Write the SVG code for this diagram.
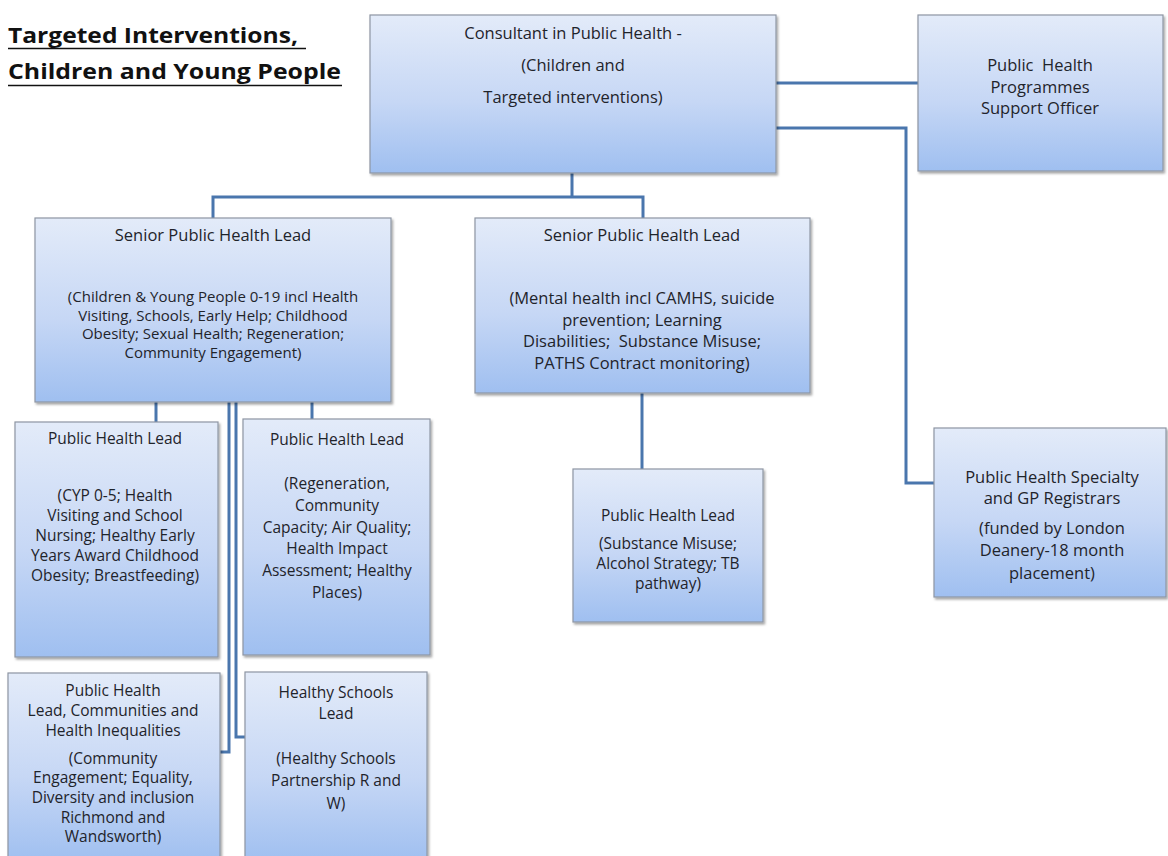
<svg xmlns="http://www.w3.org/2000/svg" width="1168" height="856" viewBox="0 0 1168 856">
<defs>
<linearGradient id="g" x1="0" y1="0" x2="0" y2="1">
<stop offset="0" stop-color="#e3ebf9"/>
<stop offset="0.55" stop-color="#c6d7f5"/>
<stop offset="1" stop-color="#9fbff0"/>
</linearGradient>
<filter id="sh" x="-5%" y="-5%" width="115%" height="115%">
<feDropShadow dx="1.5" dy="2" stdDeviation="1.2" flood-color="#000" flood-opacity="0.35"/>
</filter>
</defs>
<style>
.box{fill:url(#g);stroke:#8e96a3;stroke-width:1.2;filter:url(#sh)}
.c{fill:none;stroke:#4a76ad;stroke-width:3}
text{font-family:"Open Sans","Liberation Sans",sans-serif;fill:#1f242b;text-anchor:middle}
.t{font-size:16.5px}
.m{font-size:15.5px}
.n{font-size:15px}
.s{font-size:15.5px}
.title{font-size:22px;font-weight:bold;text-anchor:start;fill:#111}
.ul{stroke:#111;stroke-width:1.6}
</style>
<rect width="1168" height="856" fill="#ffffff"/>

<g id="title">
<text class="title" x="8" y="43" textLength="290" lengthAdjust="spacingAndGlyphs">Targeted Interventions,</text>
<text class="title" x="8" y="79" textLength="333" lengthAdjust="spacingAndGlyphs">Children and Young People</text>
<line class="ul" x1="8" y1="48.5" x2="306" y2="48.5"/>
<line class="ul" x1="8" y1="85.5" x2="342" y2="85.5"/>
</g>

<g id="connectors">
<path class="c" d="M572 173 V197 M213 218 V197 H643 V218"/>
<path class="c" d="M776 83 H918"/>
<path class="c" d="M776 128 H906 V483 H934"/>
<path class="c" d="M642 393 V469"/>
<path class="c" d="M156 402 V422"/>
<path class="c" d="M312 402 V419"/>
<path class="c" d="M229 402 V752 H220"/>
<path class="c" d="M236 402 V737 H245"/>
</g>

<g id="consultant">
<rect class="box" x="370" y="15" width="406" height="158"/>
<text class="t" x="573" y="38.5">Consultant in Public Health -</text>
<text class="t" x="573" y="70.5">(Children and</text>
<text class="t" x="573" y="102.5">Targeted interventions)</text>
</g>

<g id="support-officer">
<rect class="box" x="918" y="15" width="245" height="156"/>
<text class="t" x="1040" y="70.5" xml:space="preserve">Public  Health</text>
<text class="t" x="1040" y="92.5">Programmes</text>
<text class="t" x="1040" y="113.5">Support Officer</text>
</g>

<g id="senior-lead-cyp">
<rect class="box" x="35" y="218" width="356" height="184"/>
<text class="t" x="213" y="240.5">Senior Public Health Lead</text>
<text class="n" x="213" y="302">(Children &amp; Young People 0-19 incl Health</text>
<text class="n" x="213" y="320.5">Visiting, Schools, Early Help; Childhood</text>
<text class="n" x="213" y="339">Obesity; Sexual Health; Regeneration;</text>
<text class="n" x="213" y="357.5">Community Engagement)</text>
</g>

<g id="senior-lead-mh">
<rect class="box" x="475" y="218" width="335" height="175"/>
<text class="t" x="642" y="240.5">Senior Public Health Lead</text>
<text class="t" x="642" y="304">(Mental health incl CAMHS, suicide</text>
<text class="t" x="642" y="325.5">prevention; Learning</text>
<text class="t" x="642" y="347" xml:space="preserve">Disabilities;  Substance Misuse;</text>
<text class="t" x="642" y="369">PATHS Contract monitoring)</text>
</g>

<g id="ph-lead-cyp">
<rect class="box" x="15" y="422" width="203" height="235"/>
<text class="m" x="115" y="443.5">Public Health Lead</text>
<text class="m" x="115" y="500.5">(CYP 0-5; Health</text>
<text class="m" x="115" y="520.5">Visiting and School</text>
<text class="m" x="115" y="540.5">Nursing; Healthy Early</text>
<text class="m" x="115" y="560.5">Years Award Childhood</text>
<text class="m" x="115" y="580.5">Obesity; Breastfeeding)</text>
</g>

<g id="ph-lead-regen">
<rect class="box" x="243" y="419" width="187" height="236"/>
<text class="m" x="337" y="445">Public Health Lead</text>
<text class="m" x="337" y="489">(Regeneration,</text>
<text class="m" x="337" y="510.8">Community</text>
<text class="m" x="337" y="532.6">Capacity; Air Quality;</text>
<text class="m" x="337" y="554.4">Health Impact</text>
<text class="m" x="337" y="576.2">Assessment; Healthy</text>
<text class="m" x="337" y="598">Places)</text>
</g>

<g id="ph-lead-substance">
<rect class="box" x="573" y="469" width="190" height="153"/>
<text class="s" x="668" y="520.5">Public Health Lead</text>
<text class="s" x="668" y="548.5">(Substance Misuse;</text>
<text class="s" x="668" y="568.5">Alcohol Strategy; TB</text>
<text class="s" x="668" y="588.5">pathway)</text>
</g>

<g id="registrars">
<rect class="box" x="934" y="428" width="232" height="169"/>
<text class="t" x="1052" y="482.5">Public Health Specialty</text>
<text class="t" x="1052" y="503.5">and GP Registrars</text>
<text class="t" x="1052" y="533.5">(funded by London</text>
<text class="t" x="1052" y="555.5">Deanery-18 month</text>
<text class="t" x="1052" y="578.5">placement)</text>
</g>

<g id="ph-lead-communities">
<rect class="box" x="8" y="673" width="212" height="190"/>
<text class="m" x="113" y="695.5">Public Health</text>
<text class="m" x="113" y="715.5">Lead, Communities and</text>
<text class="m" x="113" y="735.5">Health Inequalities</text>
<text class="m" x="113" y="763.5">(Community</text>
<text class="m" x="113" y="783.2">Engagement; Equality,</text>
<text class="m" x="113" y="802.9">Diversity and inclusion</text>
<text class="m" x="113" y="822.6">Richmond and</text>
<text class="m" x="113" y="842.3">Wandsworth)</text>
</g>

<g id="healthy-schools">
<rect class="box" x="245" y="672" width="182" height="191"/>
<text class="m" x="336" y="697.5">Healthy Schools</text>
<text class="m" x="336" y="718.5">Lead</text>
<text class="m" x="336" y="763.5">(Healthy Schools</text>
<text class="m" x="336" y="785.5">Partnership R and</text>
<text class="m" x="336" y="808.5">W)</text>
</g>
</svg>
